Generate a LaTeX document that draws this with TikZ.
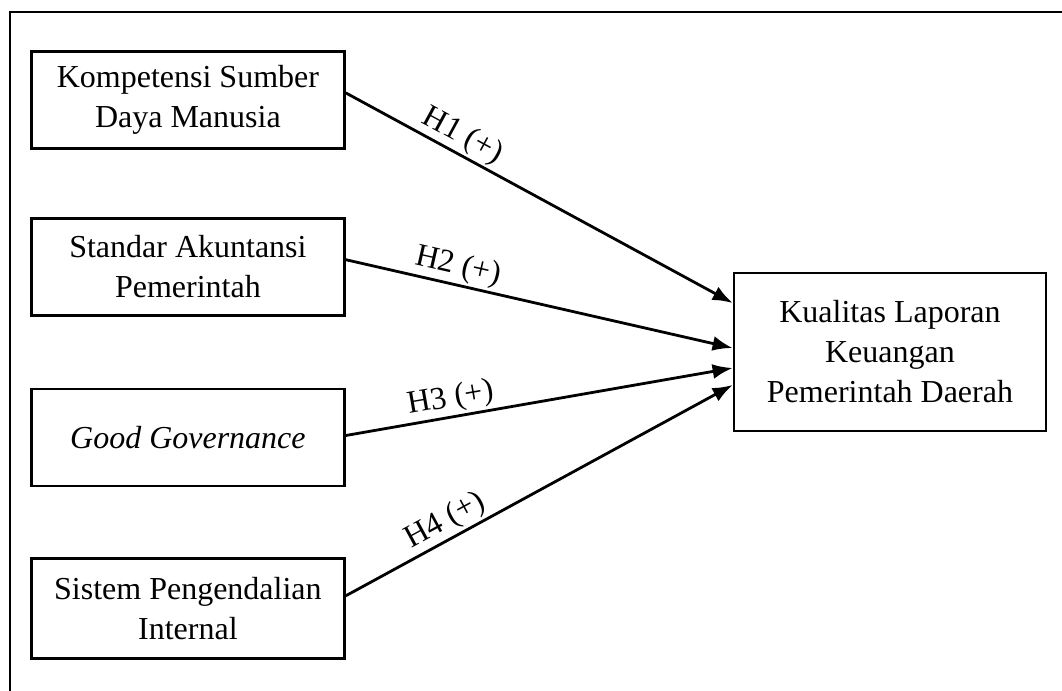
\documentclass[tikz,border=0pt]{standalone}
\usepackage{fontspec}
\setmainfont{Liberation Serif}
\usetikzlibrary{positioning, arrows.meta}

\begin{document}
\begin{tikzpicture}[
  x=0.5pt, y=0.5pt,
  font=\fontsize{16}{20}\selectfont,
  varbox/.style={rectangle, draw, line width=1.4pt, align=center, minimum width=156.5pt, minimum height=48.5pt, inner sep=0pt},
  depbox/.style={rectangle, draw, line width=1.4pt, align=center, minimum width=156pt, minimum height=79pt, inner sep=0pt},
  arrow/.style={-{Latex[length=10pt, width=7.5pt]}, line width=1.4pt},
  hyp/.style={above, sloped, pos=0.28, inner sep=1pt}
]
\useasboundingbox (0,0) rectangle (1062,-691);

%------------------------------------------------
% Frame
%------------------------------------------------
\draw[line width=1pt] (10,-691) -- (10,-12) -- (1062,-12);

%------------------------------------------------
% Independent variables
%------------------------------------------------
\node[varbox, anchor=north west] (kompetensi) at (30,-50) {Kompetensi Sumber\\Daya Manusia};
\node[varbox, below=33.5pt of kompetensi] (standar) {Standar Akuntansi\\Pemerintah};
\node[varbox, below=35.5pt of standar] (governance) {\itshape Good Governance};
\node[varbox, below=35pt of governance, minimum height=50pt] (spi) {Sistem Pengendalian\\Internal};

%------------------------------------------------
% Dependent variable
%------------------------------------------------
\node[depbox] (kualitas) at (890,-352) {Kualitas Laporan\\Keuangan\\Pemerintah Daerah};

%------------------------------------------------
% Hypotheses
%------------------------------------------------
\draw[arrow] ([yshift=3.5pt]kompetensi.east) -- node[hyp] {H1 (+)} ([yshift=24.5pt]kualitas.west);
\draw[arrow] ([yshift=3.5pt]standar.east) -- node[hyp] {H2 (+)} ([yshift=2pt]kualitas.west);
\draw[arrow] ([yshift=1pt]governance.east) -- node[hyp] {H3 (+)} ([yshift=-8pt]kualitas.west);
\draw[arrow] ([yshift=6.5pt]spi.east) -- node[hyp] {H4 (+)} ([yshift=-16.5pt]kualitas.west);

\end{tikzpicture}
\end{document}
